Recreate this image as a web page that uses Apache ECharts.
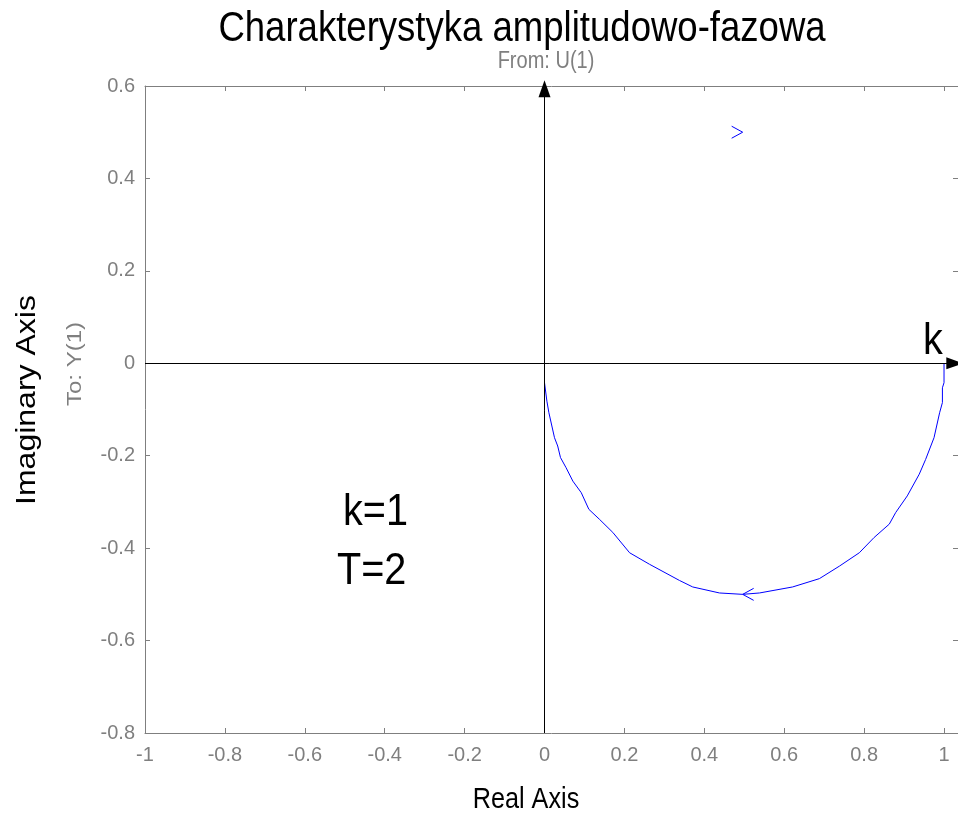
<!DOCTYPE html>
<html>
<head>
<meta charset="utf-8">
<title>Charakterystyka amplitudowo-fazowa</title>
<script src="https://cdn.jsdelivr.net/npm/echarts@6/dist/echarts.min.js"></script>
<style>
  html, body { margin: 0; padding: 0; background: #fff; }
  #chart { width: 958px; height: 814px; }
</style>
</head>
<body>
<div id="chart"></div>
<script>
// Nyquist locus of G(s) = k / (T s + 1), k = 1, T = 2 (positive frequencies)
const realPart = [1.000, 1.000, 0.996, 0.996, 0.989, 0.975, 0.954, 0.938, 0.908, 0.879,
  0.863, 0.825, 0.788, 0.738, 0.688, 0.621, 0.538, 0.496, 0.438, 0.371,
  0.338, 0.263, 0.213, 0.171, 0.138, 0.111, 0.092, 0.071, 0.054, 0.040,
  0.033, 0.025, 0.011, 0.006, 0.000, 0.000];
const imagPart = [0.000, -0.042, -0.053, -0.085, -0.107, -0.161, -0.208, -0.240, -0.287, -0.323,
  -0.348, -0.377, -0.410, -0.439, -0.466, -0.484, -0.497, -0.500, -0.497, -0.484,
  -0.470, -0.435, -0.410, -0.366, -0.338, -0.316, -0.280, -0.255, -0.226, -0.204,
  -0.179, -0.161, -0.107, -0.082, -0.042, 0.000];

// direction arrows on the locus: [re, im, pointing (-1 = left, 1 = right)]
const arrowMarks = [[0.496, -0.5, -1], [0.496, 0.5, 1]];

const xTicks = [-1, -0.8, -0.6, -0.4, -0.2, 0, 0.2, 0.4, 0.6, 0.8, 1];
const yTicks = [-0.8, -0.6, -0.4, -0.2, 0, 0.2, 0.4, 0.6];

const titleText = 'Charakterystyka amplitudowo-fazowa';
const inputText = 'From: U(1)';
const outputText = 'To: Y(1)';
const xName = 'Real Axis';
const yName = 'Imaginary Axis';
const paramLines = ['k=1', 'T=2'];
const gainLabel = 'k';

const GRAY = '#7f7f7f';
const FONT = '"Liberation Sans", Arial, sans-serif';
const NARROW = 0.87; // glyphs are drawn slightly condensed

const locus = realPart.map((re, i) => [re, imagPart[i]]);

const chart = echarts.init(document.getElementById('chart'), null, { renderer: 'canvas' });

const frameAxisX = (pos, labels) => ({
  type: 'value',
  position: pos,
  min: -1,
  max: 1.035,
  axisLine: { show: true, onZero: false, lineStyle: { color: GRAY, width: 1 } },
  axisTick: { show: true, inside: true, length: 5, customValues: xTicks, lineStyle: { color: GRAY } },
  axisLabel: { show: labels, customValues: xTicks, color: GRAY, fontSize: 20, fontFamily: FONT, margin: 12 },
  splitLine: { show: false }
});

const frameAxisY = (pos, labels) => ({
  type: 'value',
  position: pos,
  min: -0.8,
  max: 0.6,
  interval: 0.2,
  axisLine: { show: true, onZero: false, lineStyle: { color: GRAY, width: 1 } },
  axisTick: { show: true, inside: true, length: 5, lineStyle: { color: GRAY } },
  axisLabel: { show: labels, color: GRAY, fontSize: 20, fontFamily: FONT, margin: 10 },
  splitLine: { show: false }
});

const option = {
  animation: false,
  backgroundColor: '#fff',
  grid: { left: 145, top: 86, right: -1, bottom: 81, containLabel: false },
  xAxis: [frameAxisX('bottom', true), frameAxisX('top', false)],
  yAxis: [frameAxisY('left', true), frameAxisY('right', false)],
  series: [
    {
      type: 'line',
      data: locus,
      showSymbol: false,
      symbol: 'none',
      clip: false,
      lineStyle: { color: '#0000ff', width: 1 },
      itemStyle: { color: '#0000ff' },
      silent: true,
      markLine: {
        silent: true,
        symbol: ['none', 'triangle'],
        symbolSize: [12, 17],
        label: { show: false },
        lineStyle: { color: '#000', width: 1, type: 'solid' },
        emphasis: { disabled: true },
        data: [
          [{ coord: [0, -0.8] }, { coord: [0, 0.594] }],
          [{ coord: [-1, 0] }, { coord: [1.027, 0] }]
        ]
      },
      z: 3
    },
    {
      type: 'custom',
      data: arrowMarks,
      silent: true,
      clip: false,
      renderItem: function (params, api) {
        const p = api.coord([api.value(0), api.value(1)]);
        const dir = api.value(2);
        const dx = -dir * 11;
        const h = 6;
        return {
          type: 'polyline',
          shape: { points: [[p[0] + dx, p[1] - h], [p[0], p[1]], [p[0] + dx, p[1] + h]] },
          style: { stroke: '#0000ff', fill: null, lineWidth: 1 }
        };
      },
      z: 4
    }
  ],
  graphic: [
    {
      type: 'text', x: 522, y: 29, scaleX: NARROW,
      style: { text: titleText, font: '42px ' + FONT, fill: '#000', align: 'center', verticalAlign: 'middle' }
    },
    {
      type: 'text', x: 546, y: 62, scaleX: NARROW,
      style: { text: inputText, font: '23px ' + FONT, fill: GRAY, align: 'center', verticalAlign: 'middle' }
    },
    {
      type: 'text', x: 75, y: 364, rotation: Math.PI / 2, scaleY: NARROW,
      style: { text: outputText, font: '24px ' + FONT, fill: GRAY, align: 'center', verticalAlign: 'middle' }
    },
    {
      type: 'text', x: 27, y: 400, rotation: Math.PI / 2, scaleY: NARROW,
      style: { text: yName, font: '32px ' + FONT, fill: '#000', align: 'center', verticalAlign: 'middle' }
    },
    {
      type: 'text', x: 526, y: 800, scaleX: NARROW,
      style: { text: xName, font: '29px ' + FONT, fill: '#000', align: 'center', verticalAlign: 'middle' }
    },
    {
      type: 'text', x: 343, y: 491, scaleX: 0.9,
      style: { text: paramLines[0], font: '44px ' + FONT, fill: '#000', align: 'left', verticalAlign: 'top' }
    },
    {
      type: 'text', x: 337, y: 550, scaleX: 0.9,
      style: { text: paramLines[1], font: '44px ' + FONT, fill: '#000', align: 'left', verticalAlign: 'top' }
    },
    {
      type: 'text', x: 933, y: 320, scaleX: 0.9,
      style: { text: gainLabel, font: '44px ' + FONT, fill: '#000', align: 'center', verticalAlign: 'top' }
    }
  ]
};

chart.setOption(option);
</script>
</body>
</html>
